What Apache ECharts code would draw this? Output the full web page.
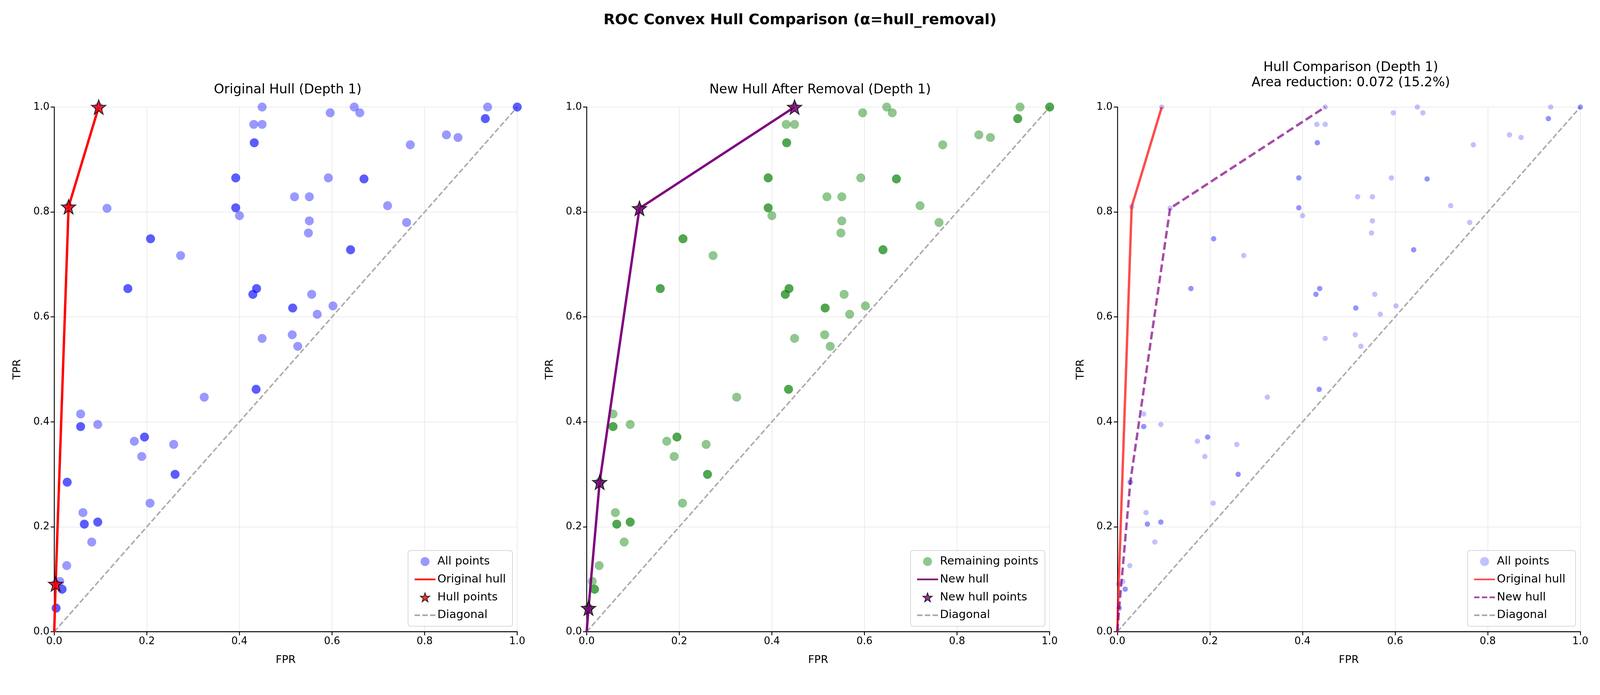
<!DOCTYPE html>
<html>
<head>
<meta charset="utf-8">
<script src="https://cdn.jsdelivr.net/npm/echarts@6/dist/echarts.min.js"></script>
<style>html,body{margin:0;padding:0;background:#fff;overflow:hidden}#chart{width:100vw;height:100vh}</style>
</head>
<body>
<div id="chart"></div>
<script>
// non-hull points (pairs of duplicates listed twice)
var ptFpr = [0.449,0.431,0.449,0.432,0.432,0.596,0.648,0.660,0.936,0.931,0.931,1.0,1.0,0.847,0.872,0.769,
  0.392,0.392,0.592,0.669,0.669,0.519,0.551,0.720,0.114,0.392,0.392,0.400,0.551,0.549,0.761,0.208,0.208,
  0.273,0.640,0.640,0.159,0.159,0.437,0.437,0.429,0.429,0.556,0.515,0.515,0.602,0.568,0.514,0.449,0.526,
  0.436,0.436,0.324,0.057,0.057,0.057,0.094,0.173,0.195,0.195,0.189,0.258,0.261,0.261,0.028,0.028,0.207,
  0.062,0.065,0.065,0.094,0.094,0.081,0.027,0.012,0.017,0.017,0.004,0.004];
var ptTpr = [1.0,0.967,0.967,0.932,0.932,0.989,1.0,0.989,1.0,0.978,0.978,1.0,1.0,0.947,0.942,0.928,
  0.865,0.865,0.865,0.863,0.863,0.829,0.829,0.812,0.807,0.808,0.808,0.793,0.783,0.760,0.780,0.749,0.749,
  0.717,0.728,0.728,0.654,0.654,0.654,0.654,0.643,0.643,0.643,0.617,0.617,0.621,0.605,0.566,0.559,0.544,
  0.462,0.462,0.447,0.415,0.391,0.391,0.395,0.363,0.371,0.371,0.334,0.357,0.300,0.300,0.285,0.285,0.245,
  0.227,0.205,0.205,0.209,0.209,0.171,0.126,0.096,0.081,0.081,0.045,0.045];
var origStarFpr = [0.003,0.031,0.096];
var origStarTpr = [0.091,0.810,1.0];
var origHullFpr = [0,0.003,0.031,0.096];
var origHullTpr = [0,0.091,0.810,1.0];
var newStarFpr = [0.004,0.028,0.114,0.449];
var newStarTpr = [0.045,0.285,0.807,1.0];
var newHullFpr = [0,0.004,0.028,0.114,0.449];
var newHullTpr = [0,0.045,0.285,0.807,1.0];

function zip(a,b){ return a.map(function(v,i){ return [v,b[i]]; }); }
var allPts = zip(ptFpr.concat(origStarFpr), ptTpr.concat(origStarTpr));
var remPts = zip(ptFpr, ptTpr);
var star = 'path://M0,-10L2.35,-3.24L9.51,-3.09L3.8,1.24L5.88,8.09L0,4L-5.88,8.09L-3.8,1.24L-9.51,-3.09L-2.35,-3.24Z';
var solidIcon = 'path://M0,0H100V8H0Z';
var dashIcon = 'path://M0,0H26V8H0ZM37,0H63V8H37ZM74,0H100V8H74Z';

var W = window.innerWidth, H = window.innerHeight, s = W/5370, sy = H/1779;
var lefts = [182,1969,3750], width = 1554;
var titles = ['Original Hull (Depth 1)','New Hull After Removal (Depth 1)','Hull Comparison (Depth 1)\nArea reduction: 0.072 (15.2%)'];
var grids = [], xAxes = [], yAxes = [], titleArr = [], legends = [];
titleArr.push({text:'ROC Convex Hull Comparison (\u03b1=hull_removal)', left:'center', top:28*sy,
  textStyle:{fontFamily:'DejaVu Sans', fontSize:50*s, fontWeight:'bold', color:'#000'}});
lefts.forEach(function(l,i){
  grids.push({left:l*s, width:width*s, top:274*sy, height:1343*sy});
  var ax = {gridIndex:i, type:'value', min:0, max:1, interval:0.2,
    axisLine:{show:true, onZero:false, lineStyle:{color:'#000', width:3*s}},
    axisTick:{show:true, length:12*s, lineStyle:{color:'#000', width:3*s}},
    axisLabel:{fontFamily:'DejaVu Sans', fontSize:34*s, color:'#000', margin:16*s, formatter:function(v){return v.toFixed(1);}},
    splitLine:{show:true, lineStyle:{color:'#e6e6e6', width:2*s}},
    nameTextStyle:{fontFamily:'DejaVu Sans', fontSize:36*s, color:'#000'}};
  xAxes.push(Object.assign({}, ax, {name:'FPR', nameLocation:'middle', nameGap:78*s}));
  yAxes.push(Object.assign({}, ax, {name:'TPR', nameLocation:'middle', nameGap:105*s}));
  titleArr.push({text:titles[i], left:(l+width/2)*s, top:(i==2?148:205)*sy, textAlign:'center',
    textStyle:{fontFamily:'DejaVu Sans', fontSize:44*s, fontWeight:'normal', color:'#000', lineHeight:52*s}});
});
var legendNames = [
  [{name:'All points',icon:'circle'},{name:'Original hull',icon:solidIcon},{name:'Hull points',icon:star},{name:'Diagonal',icon:dashIcon}],
  [{name:'Remaining points',icon:'circle'},{name:'New hull',icon:solidIcon},{name:'New hull points',icon:star},{name:'Diagonal',icon:dashIcon}],
  [{name:'All points ',icon:'circle'},{name:'Original hull ',icon:solidIcon},{name:'New hull ',icon:dashIcon},{name:'Diagonal',icon:dashIcon}]];
legendNames.forEach(function(d,i){
  legends.push({data:d, orient:'vertical', left:(lefts[i]+width-14)*s, bottom:(1779-1617+14)*sy,
    backgroundColor:'rgba(255,255,255,0.8)', borderColor:'#ccc', borderWidth:2*s, borderRadius:8*s,
    padding:[18*s,22*s], itemGap:22*s, itemWidth:70*s, itemHeight:30*s,
    textStyle:{fontFamily:'DejaVu Sans', fontSize:38*s, color:'#000'}});
});

var series = [];
function diag(i){ series.push({name:'Diagonal', type:'line', xAxisIndex:i, yAxisIndex:i, data:[[0,0],[1,1]],
  symbol:'none', itemStyle:{color:'#aaaaaa'}, lineStyle:{color:'#aaaaaa', width:5*s, type:[18*s,8*s]}, z:1}); }
// panel 1
series.push({name:'All points', type:'scatter', xAxisIndex:0, yAxisIndex:0, data:allPts, symbolSize:30*s,
  itemStyle:{color:'rgba(0,0,255,0.5)'}, z:3});
series.push({name:'Original hull', type:'line', xAxisIndex:0, yAxisIndex:0, data:zip(origHullFpr,origHullTpr),
  symbol:'none', itemStyle:{color:'#ff0000'}, lineStyle:{color:'#ff0000', width:8*s}, z:4});
series.push({name:'Hull points', type:'scatter', xAxisIndex:0, yAxisIndex:0, data:zip(origStarFpr,origStarTpr),
  symbol:star, symbolSize:48*s, itemStyle:{color:'#ff0000', borderColor:'#000', borderWidth:3*s}, z:5});
diag(0);
// panel 2
series.push({name:'Remaining points', type:'scatter', xAxisIndex:1, yAxisIndex:1, data:remPts, symbolSize:30*s,
  itemStyle:{color:'rgba(0,128,0,0.55)'}, z:3});
series.push({name:'New hull', type:'line', xAxisIndex:1, yAxisIndex:1, data:zip(newHullFpr,newHullTpr),
  symbol:'none', itemStyle:{color:'#800080'}, lineStyle:{color:'#800080', width:8*s}, z:4});
series.push({name:'New hull points', type:'scatter', xAxisIndex:1, yAxisIndex:1, data:zip(newStarFpr,newStarTpr),
  symbol:star, symbolSize:48*s, itemStyle:{color:'#800080', borderColor:'#000', borderWidth:3*s}, z:5});
diag(1);
// panel 3
series.push({name:'All points ', type:'scatter', xAxisIndex:2, yAxisIndex:2, data:allPts, symbolSize:18*s,
  itemStyle:{color:'rgba(0,0,255,0.3)'}, z:3});
series.push({name:'Original hull ', type:'line', xAxisIndex:2, yAxisIndex:2, data:zip(origHullFpr,origHullTpr),
  symbol:'none', itemStyle:{color:'rgba(255,0,0,0.7)'}, lineStyle:{color:'rgba(255,0,0,0.7)', width:8*s}, z:4});
series.push({name:'New hull ', type:'line', xAxisIndex:2, yAxisIndex:2, data:zip(newHullFpr,newHullTpr),
  symbol:'none', itemStyle:{color:'rgba(128,0,128,0.7)'}, lineStyle:{color:'rgba(128,0,128,0.7)', width:8*s, type:[26*s,12*s]}, z:4});
diag(2);

var myChart = echarts.init(document.getElementById('chart'));
myChart.setOption({animation:false, title:titleArr, grid:grids, xAxis:xAxes, yAxis:yAxes, legend:legends, series:series});
// legends: right-align to each grid's right edge after layout
var opt = myChart.getOption();
var leg = myChart.getModel().getComponent('legend',0);
legends.forEach(function(lg,i){
  var view = myChart.getViewOfComponentModel(myChart.getModel().getComponent('legend',i));
  var w = view.group.getBoundingRect().width;
  lg.left = (lefts[i]+width-14)*s - w;
});
myChart.setOption({legend:legends});
window.addEventListener("resize", function () { myChart.resize(); });
</script>
</body>
</html>
